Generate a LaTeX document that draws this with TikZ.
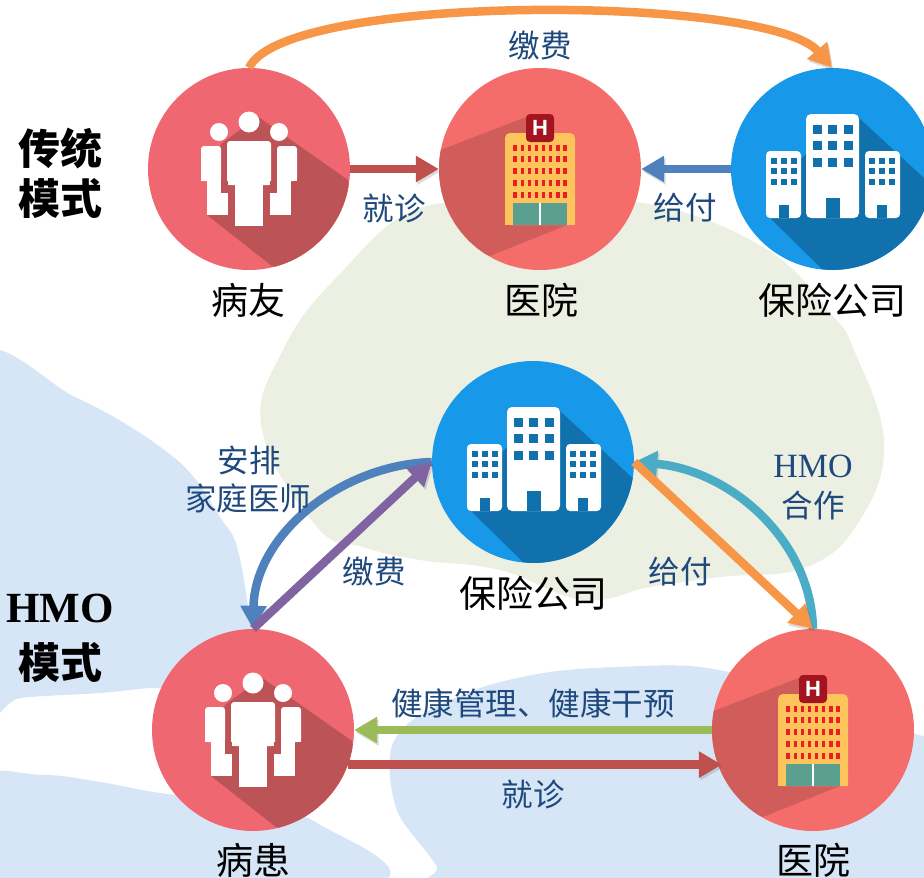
\documentclass[tikz,border=0pt]{standalone}
\usepackage{fontspec}
\usetikzlibrary{arrows.meta}
\setmainfont{Liberation Serif}
\newfontfamily\cjk{Noto Sans CJK SC}
\newfontfamily\signfont{Liberation Sans}
\definecolor{redcirc}{HTML}{EF6771}
\definecolor{redshade}{HTML}{BC5356}
\definecolor{hospcirc}{HTML}{F46D6B}
\definecolor{hospshade}{HTML}{D15D5B}
\definecolor{bluecirc}{HTML}{1798E8}
\definecolor{blueshade}{HTML}{1171AD}
\definecolor{labelblue}{HTML}{1F497D}
\definecolor{paleblue}{HTML}{D6E6F6}
\definecolor{palegreen}{HTML}{ECF0E2}
\definecolor{buildyellow}{HTML}{FEC45C}
\definecolor{doorgreen}{HTML}{5B9F91}
\definecolor{signred}{HTML}{A31420}
\definecolor{winred}{HTML}{EE1C25}
\definecolor{arrowred}{HTML}{C0504D}
\definecolor{arrowblue}{HTML}{4F81BD}
\definecolor{arroworange}{HTML}{F79646}
\definecolor{arrowpurple}{HTML}{8064A2}
\definecolor{arrowteal}{HTML}{4BACC6}
\definecolor{arrowgreen}{HTML}{9BBB59}
\tikzset{
  bigtip/.tip={Triangle[length=23pt,width=25pt]},
  flow/.style={line width=8.5pt,-bigtip,preaction={draw=black!70,opacity=.2,transform canvas={xshift=1.5pt,yshift=-2.5pt}}},
  people/.style={circle,fill=redcirc,minimum size=202pt,inner sep=0pt},
  hospital/.style={circle,fill=hospcirc,minimum size=202pt,inner sep=0pt},
  office/.style={circle,fill=bluecirc,minimum size=202pt,inner sep=0pt},
  blacklabel/.style={font=\fontsize{37}{40}\selectfont\cjk,text=black},
  bluelabel/.style={font=\fontsize{31.5}{36}\selectfont\cjk,text=labelblue},
  modelabel/.style={font=\fontsize{42}{46}\selectfont\bfseries\cjk,text=black}
}
% icons are drawn round the centre of their circle
\newcommand{\peopleicon}[1]{
\begin{scope}[shift={(#1)}]
\begin{scope}
\clip (0,0) circle (101);
\fill [redshade] (8,-53)--(99,11)--(115,115)--(23,97)--(-42,46)--(-28,-25)--(-5,-42)--cycle;
\end{scope}
\fill [white] (0,-47) circle (10.5);
\fill [white] (-30,-37) circle (9);
\fill [white] (30,-37) circle (9);
\fill [white,rounded corners=3pt] (-22,16)--(-22,-28)--(22,-28)--(22,16)--cycle;
\fill [white] (-22,10) rectangle (22,16);
\fill [white] (-14,10) rectangle (14,57);
\fill [white,rounded corners=3pt] (-48,12)--(-48,-23)--(-28,-23)--(-28,12)--cycle;
\fill [white] (-48,6) rectangle (-28,12);
\fill [white] (-42,12) rectangle (-21,46);
\fill [redshade] (-28,12) rectangle (-21,24);
\fill [white,rounded corners=3pt] (48,12)--(48,-23)--(28,-23)--(28,12)--cycle;
\fill [white] (48,6) rectangle (28,12);
\fill [white] (42,12) rectangle (21,46);
\fill [redshade] (28,12) rectangle (21,24);
\end{scope}}
\newcommand{\hospitalicon}[2]{
\begin{scope}[shift={(#2)}]
\begin{scope}
\clip (0,0) circle (101);
\fill [hospshade] (-14,-52)--(-115,-13)--(-115,60)--(-50,87)--(27,56)--cycle;
\end{scope}
\fill [buildyellow,rounded corners=5pt] (-35,56)--(-35,-36)--(35,-36)--(35,56)--cycle;
\fill [buildyellow] (-35,46) rectangle (35,56);
\foreach \wx in {-25,-17.8,-10.7,-3.6,3.6,10.7,17.8,25}
  \foreach \wy in {-21,-10,2,14,26}
    \fill [winred] (\wx-1.7,\wy-2.8) rectangle (\wx+1.7,\wy+2.8);
\fill [doorgreen] (-27,34) rectangle (27,56);
\fill [white] (-.8,34) rectangle (.8,56);
\fill [signred,rounded corners=4pt] (-14,-55) rectangle (14,-27);
\node [font=\fontsize{22}{22}\selectfont\bfseries\signfont,text=white,inner sep=0pt] (#1) at (0,-41) {H};
\end{scope}}
\newcommand{\officeicon}[1]{
\begin{scope}[shift={(#1)}]
\begin{scope}
\clip (0,0) circle (101);
\fill [blueshade] (27,-51)--(120,35)--(115,115)--(-10,100)--(-62,49)--(-31,-10)--(-26,-15)--cycle;
\end{scope}
\fill [white,rounded corners=5pt] (-26,-55) rectangle (27,49);
\fill [white,rounded corners=4pt] (-66,-18) rectangle (-31,49);
\fill [white,rounded corners=4pt] (33,-18) rectangle (68,49);
\foreach \wx in {-15,0,16}
  \foreach \wy in {-40,-24,-7}
    \fill [blueshade] (\wx-4.5,\wy-4.5) rectangle (\wx+4.5,\wy+4.5);
\foreach \wx in {-58,-48,-38,40,50,60}
  \foreach \wy in {-8,2,13}
    \fill [blueshade] (\wx-3,\wy-3) rectangle (\wx+3,\wy+3);
\fill [blueshade] (-6,29) rectangle (8,49);
\fill [blueshade] (-53,36) rectangle (-43,49);
\fill [blueshade] (45,36) rectangle (55,49);
\end{scope}}
\begin{document}
\begin{tikzpicture}[x=1pt,y=-1pt]
\fill [white] (0,0) rectangle (924,878);
\useasboundingbox (0,0) rectangle (924,878);
% washes behind everything
\fill [paleblue] plot [smooth cycle,tension=.6] coordinates {(-30,368) (77,398) (177,460) (222,520) (237,547) (248,607) (250,650) (210,685) (150,688) (100,693) (20,698) (-30,708)};
\fill [paleblue] plot [smooth cycle,tension=.6] coordinates {(-30,782) (43,775) (100,782) (160,793) (250,805) (317,823) (372,885) (-30,900)};
\fill [paleblue] plot [smooth cycle,tension=.5] coordinates {(550,672) (617,667) (700,667) (800,690) (913,733) (960,755) (960,900) (442,900) (437,867) (400,817) (390,777) (393,743) (417,717) (483,687)};
\fill [palegreen] plot [smooth cycle,tension=.7] coordinates {(540,213) (643,203) (763,247) (830,313) (854,350) (884,443) (860,520) (807,567) (720,577) (650,587) (583,600) (500,570) (420,560) (363,547) (317,527) (262,430) (283,350) (337,277) (423,207)};
% traditional mode
\node [people] (youA) at (249,169) {};
\node [hospital] (hospA) at (540,169) {};
\node [office] (compA) at (832,169) {};
\peopleicon{249,169}
\hospitalicon{signA}{540,169}
\officeicon{832,169}
\draw [flow,arrowred] (youA.east)--(hospA.west);
\draw [flow,arrowblue] (compA.west)--(hospA.east);
\draw [flow,arroworange] (youA.north)..controls (285,-8) and (770,-5)..(compA.north);
\node [bluelabel] (feeA) at (540,46) {缴费};
\node [bluelabel] (visitA) at (394,209) {就诊};
\node [bluelabel] (payA) at (685,208) {给付};
\node [blacklabel] (nameA) at (248,300) {病友};
\node [blacklabel] (nameB) at (541,300) {医院};
\node [blacklabel] (nameC) at (832,300) {保险公司};
\node [modelabel] (tradA) at (60,148) {传统};
\node [modelabel] (tradB) at (60,198) {模式};
% hmo mode
\node [office] (compB) at (533,462) {};
\node [people] (youB) at (253,730) {};
\node [hospital] (hospB) at (813,730) {};
\officeicon{533,462}
\peopleicon{253,730}
\hospitalicon{signB}{813,730}
\draw [flow,arrowblue] (compB.west)..controls (340,465) and (255,535)..(youB.north);
\draw [flow,arrowpurple] (youB.north)--(compB.west);
\draw [flow,arrowteal] (hospB.north)..controls (811,540) and (730,470)..(compB.east);
\draw [flow,arroworange] (compB.east)--(hospB.north);
\draw [flow,arrowgreen] (hospB.west)--(youB.east);
\draw [flow,arrowred,shorten >=-4pt] (youB.-20)--(hospB.200);
\node [bluelabel] (planA) at (249,460) {安排};
\node [bluelabel] (planB) at (248,498) {家庭医师};
\node [bluelabel] (feeB) at (374,572) {缴费};
\node [bluelabel] (payB) at (680,572) {给付};
\node [bluelabel,font=\fontsize{34}{36}\selectfont] (hmoA) at (813,466) {HMO};
\node [bluelabel] (hmoB) at (813,505) {合作};
\node [bluelabel] (careA) at (533,703) {健康管理、健康干预};
\node [bluelabel] (visitB) at (533,795) {就诊};
\node [blacklabel] (nameD) at (533,593) {保险公司};
\node [blacklabel] (nameE) at (253,860) {病患};
\node [blacklabel] (nameF) at (813,860) {医院};
\node [modelabel,font=\fontsize{43}{46}\selectfont\bfseries] (modeA) at (60,608) {HMO};
\node [modelabel] (modeB) at (60,662) {模式};
\end{tikzpicture}
\end{document}
